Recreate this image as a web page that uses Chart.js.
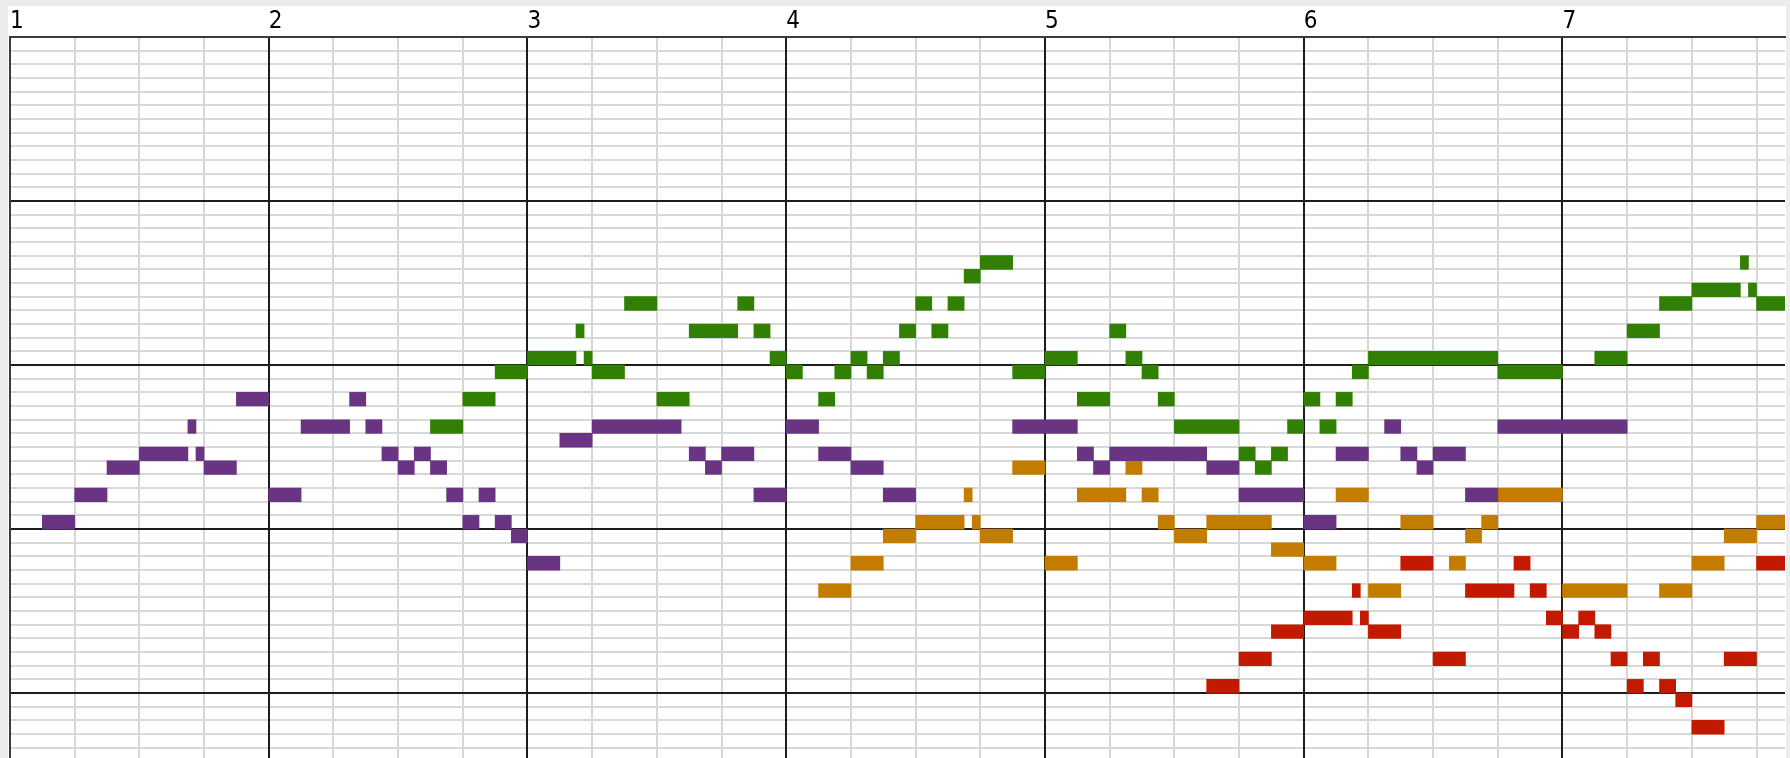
<!DOCTYPE html>
<html>
<head>
<meta charset="utf-8">
<script src="https://cdn.jsdelivr.net/npm/chart.js@4.4.1/dist/chart.umd.min.js"></script>
<style>
    html, body { margin: 0; padding: 0; background: #ececec; }
    #wrap { position: absolute; left: 8px; top: 6px; width: 1778px; height: 752px; background: #fff; }
</style>
</head>
<body>
<div id="wrap"><canvas id="roll" width="1778" height="752"></canvas></div>
<script>
// notes: [start in 16ths from bar 1, length in 16ths, pitch]
const purpleNotes = [
    [2,2,60],[4,2,62],[6,2,64],[8,3,65],[11,0.5,67],[11.5,0.5,65],[12,2,64],[14,2,69],
    [16,2,62],[18,3,67],[21,1,69],[22,1,67],[23,1,65],[24,1,64],[25,1,65],[26,1,64],
    [27,1,62],[28,1,60],[29,1,62],[30,1,60],[31,1,59],[32,2,57],[34,2,66],[36,5.5,67],
    [42,1,65],[43,1,64],[44,2,65],[46,2,62],[48,2,67],[50,2,65],[52,2,64],[54,2,62],
    [62,4,67],[66,1,65],[67,1,64],[68,5,65],[73,1,65],[74,2,64],[76,4,62],[80,2,60],
    [82,2,65],[85,1,67],[86,1,65],[87,1,64],[88,2,65],[90,2,62],[92,8,67]
];
const greenNotes = [
    [26,2,67],[28,2,69],[30,2,71],[32,3,72],[35,0.5,74],[35.5,0.5,72],[36,2,71],[38,2,76],
    [40,2,69],[42,3,74],[45,1,76],[46,1,74],[47,1,72],[48,1,71],[50,1,69],[51,1,71],
    [52,1,72],[53,1,71],[54,1,72],[55,1,74],[56,1,76],[57,1,74],[58,1,76],[59,1,78],
    [60,2,79],[62,2,71],[64,2,72],[66,2,69],[68,1,74],[69,1,72],[70,1,71],[71,1,69],
    [72,4,67],[76,1,65],[77,1,64],[78,1,65],[79,1,67],[80,1,69],[81,1,67],[82,1,69],
    [83,1,71],[84,8,72],[92,4,71],[98,2,72],[100,2,74],[102,2,76],[104,3,77],
    [107,0.5,79],[107.5,0.5,77],[108,2,76]
];
const orangeNotes = [
    [50,2,55],[52,2,57],[54,2,59],[56,3,60],[59,0.5,62],[59.5,0.5,60],[60,2,59],[62,2,64],
    [64,2,57],[66,3,62],[69,1,64],[70,1,62],[71,1,60],[72,2,59],[74,4,60],[78,2,58],
    [80,2,57],[82,2,62],[84,2,55],[86,2,60],[89,1,57],[90,1,59],[91,1,60],[92,4,62],
    [96,4,55],[102,2,55],[104,2,57],[106,2,59],[108,2,60]
];
const redNotes = [
    [74,2,48],[76,2,50],[78,2,52],[80,3,53],[83,0.5,55],[83.5,0.5,53],[84,2,52],[86,2,57],
    [88,2,50],[90,3,55],[93,1,57],[94,1,55],[95,1,53],[96,1,52],[97,1,53],[98,1,52],
    [99,1,50],[100,1,48],[101,1,50],[102,1,48],[103,1,47],[104,2,45],[106,2,50],[108,2,57]
];
const measureLabels = ['1', '2', '3', '4', '5', '6', '7'];

// x in bars (bar 1 starts at 1), y centred in the pitch row
const toBars = (notes) => notes.map(([s, len, p]) => ({ x: [1 + s / 16, 1 + (s + len) / 16], y: p + 0.5 }));

const voice = (notes, color) => ({
    data: toBars(notes),
    backgroundColor: color,
    borderWidth: 0,
    grouped: false,
    barPercentage: 1,
    categoryPercentage: 1
});

const X_MIN = 1, X_MAX = 7.86;
const DARK = '#1c1c1c';

new Chart(document.getElementById('roll'), {
    type: 'bar',
    data: {
        datasets: [
            voice(purpleNotes, '#693582'),
            voice(greenNotes, '#318003'),
            voice(orangeNotes, '#c27c00'),
            voice(redNotes, '#c21a00')
        ]
    },
    options: {
        indexAxis: 'y',
        responsive: false,
        animation: false,
        events: [],
        layout: { padding: { left: 2, right: 1, top: 0, bottom: 0 } },
        plugins: { legend: { display: false }, tooltip: { enabled: false } },
        scales: {
            // beat lines + bar numbers
            x: {
                type: 'linear',
                position: 'top',
                min: X_MIN,
                max: X_MAX,
                offset: false,
                afterFit: (scale) => { scale.height = 31; },
                ticks: {
                    stepSize: 0.25,
                    includeBounds: false,
                    autoSkip: false,
                    maxRotation: 0,
                    align: 'start',
                    padding: 1,
                    color: '#000',
                    font: { family: "'Liberation Sans Narrow', 'DejaVu Sans Condensed', 'DejaVu Sans', sans-serif", size: 24 },
                    callback: (v) => (v % 1 === 0 ? measureLabels[v - 1] : '')
                },
                grid: { offset: false, drawTicks: false, lineWidth: 2, color: '#d6d6d6', z: -3 },
                border: { display: true, color: '#3a3a3a', width: 2 }
            },
            // bar lines, drawn above the row lines
            xBar: {
                type: 'linear',
                position: 'top',
                min: X_MIN,
                max: X_MAX,
                offset: false,
                afterFit: (scale) => { scale.height = 0; },
                ticks: { stepSize: 1, includeBounds: false, display: false },
                grid: { offset: false, drawTicks: false, lineWidth: 2, color: DARK, z: -1 },
                border: { display: false }
            },
            y: {
                type: 'linear',
                min: 43.25,
                max: 96,
                offset: false,
                afterFit: (scale) => { scale.width = 0; },
                ticks: { stepSize: 1, includeBounds: false, display: false },
                grid: {
                    offset: false,
                    drawTicks: false,
                    lineWidth: 2,
                    z: -2,
                    color: (ctx) => (ctx.tick && ctx.tick.value % 12 === 0 ? DARK : '#d8d8d8')
                },
                border: { display: true, color: '#3a3a3a', width: 2 }
            }
        }
    }
});
</script>
</body>
</html>
